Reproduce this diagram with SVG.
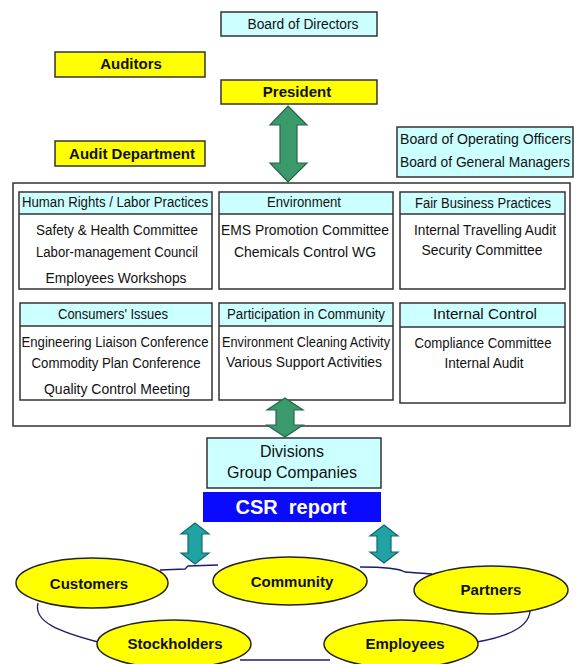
<svg xmlns="http://www.w3.org/2000/svg" width="581" height="664" viewBox="0 0 581 664">
<style>
text{font-family:"Liberation Sans",Arial,sans-serif;fill:#111;}
.box{stroke:#333;stroke-width:1.5;}
.cy{fill:#ccffff;}
.yl{fill:#ffff00;}
.wh{fill:#ffffff;}
.t13{font-size:14px;text-anchor:middle;}
.t14{font-size:14px;}
.yb{font-size:15px;font-weight:bold;text-anchor:middle;}
.ell{fill:#ffff00;stroke:#222;stroke-width:1.5;}
.ring{fill:none;stroke:#1c1c6e;stroke-width:1.3;}
.garrow{fill:#3a9a6c;stroke:#25664a;stroke-width:1.2;}
.tarrow{fill:#22a3a3;stroke:#0f6a6a;stroke-width:1.2;}
</style>
<rect width="581" height="664" fill="#ffffff"/>

<g id="board-of-directors">
<rect class="box cy" x="221" y="12" width="156" height="24"/>
<text class="t14" x="303" y="29" text-anchor="middle" textLength="111" lengthAdjust="spacingAndGlyphs">Board of Directors</text>
</g>
<g id="auditors">
<rect class="box yl" x="55" y="52" width="150" height="25"/>
<text class="yb" x="131" y="69">Auditors</text>
</g>
<g id="president">
<rect class="box yl" x="221" y="80" width="156" height="24"/>
<text class="yb" x="297" y="97">President</text>
</g>
<g id="audit-department">
<rect class="box yl" x="55" y="141" width="150" height="25"/>
<text class="yb" x="132" y="159">Audit Department</text>
</g>
<g id="board-of-operating-officers">
<rect class="box cy" x="397" y="127" width="176" height="50"/>
<text class="t14" x="400" y="144" textLength="171" lengthAdjust="spacingAndGlyphs">Board of Operating Officers</text>
<text class="t14" x="400" y="167" textLength="170" lengthAdjust="spacingAndGlyphs">Board of General Managers</text>
</g>

<g id="csr-committees">
<rect x="13" y="183" width="557" height="243" fill="#ffffff" stroke="#333" stroke-width="1.5"/>
</g>

<g id="human-rights">
<rect class="box wh" x="19" y="192" width="193" height="97"/>
<rect class="cy" x="20" y="193" width="191" height="21"/>
<line x1="19" y1="214" x2="212" y2="214" stroke="#333" stroke-width="1.5"/>
<text class="t13" x="115" y="207" textLength="186" lengthAdjust="spacingAndGlyphs">Human Rights / Labor Practices</text>
<text class="t13" x="117" y="235" textLength="162" lengthAdjust="spacingAndGlyphs">Safety &amp; Health Committee</text>
<text class="t13" x="117" y="257" textLength="162" lengthAdjust="spacingAndGlyphs">Labor-management Council</text>
<text class="t13" x="116" y="283" textLength="141" lengthAdjust="spacingAndGlyphs">Employees Workshops</text>
</g>
<g id="environment">
<rect class="box wh" x="219" y="192" width="174" height="97"/>
<rect class="cy" x="220" y="193" width="172" height="21"/>
<line x1="219" y1="214" x2="393" y2="214" stroke="#333" stroke-width="1.5"/>
<text class="t13" x="304" y="207" textLength="74" lengthAdjust="spacingAndGlyphs">Environment</text>
<text class="t13" x="305" y="235" textLength="168" lengthAdjust="spacingAndGlyphs">EMS Promotion Committee</text>
<text class="t13" x="305" y="257" textLength="142" lengthAdjust="spacingAndGlyphs">Chemicals Control WG</text>
</g>
<g id="fair-business">
<rect class="box wh" x="400" y="192" width="165" height="97"/>
<rect class="cy" x="401" y="193" width="163" height="21"/>
<line x1="400" y1="214" x2="565" y2="214" stroke="#333" stroke-width="1.5"/>
<text class="t13" x="483" y="208" textLength="136" lengthAdjust="spacingAndGlyphs">Fair Business Practices</text>
<text class="t13" x="485" y="235" textLength="142" lengthAdjust="spacingAndGlyphs">Internal Travelling Audit</text>
<text class="t13" x="482" y="255" textLength="121" lengthAdjust="spacingAndGlyphs">Security Committee</text>
</g>
<g id="consumers">
<rect class="box wh" x="20" y="303" width="192" height="97"/>
<rect class="cy" x="21" y="304" width="190" height="22"/>
<line x1="20" y1="326" x2="212" y2="326" stroke="#333" stroke-width="1.5"/>
<text class="t13" x="113" y="319" textLength="110" lengthAdjust="spacingAndGlyphs">Consumers' Issues</text>
<text class="t13" x="115" y="347" textLength="187" lengthAdjust="spacingAndGlyphs">Engineering Liaison Conference</text>
<text class="t13" x="116" y="368" textLength="169" lengthAdjust="spacingAndGlyphs">Commodity Plan Conference</text>
<text class="t13" x="117" y="394" textLength="146" lengthAdjust="spacingAndGlyphs">Quality Control Meeting</text>
</g>
<g id="participation">
<rect class="box wh" x="219" y="303" width="174" height="97"/>
<rect class="cy" x="220" y="304" width="172" height="22"/>
<line x1="219" y1="326" x2="393" y2="326" stroke="#333" stroke-width="1.5"/>
<text class="t13" x="306" y="319" textLength="158" lengthAdjust="spacingAndGlyphs">Participation in Community</text>
<text class="t13" x="306" y="347" textLength="168" lengthAdjust="spacingAndGlyphs">Environment Cleaning Activity</text>
<text class="t13" x="304" y="367" textLength="156" lengthAdjust="spacingAndGlyphs">Various Support Activities</text>
</g>
<g id="internal-control">
<rect class="box wh" x="400" y="303" width="165" height="100"/>
<rect class="cy" x="401" y="304" width="163" height="23"/>
<line x1="400" y1="327" x2="565" y2="327" stroke="#333" stroke-width="1.5"/>
<text class="t13" x="485" y="319" textLength="104" lengthAdjust="spacingAndGlyphs">Internal Control</text>
<text class="t13" x="483" y="348" textLength="137" lengthAdjust="spacingAndGlyphs">Compliance Committee</text>
<text class="t13" x="484" y="368" textLength="79" lengthAdjust="spacingAndGlyphs">Internal Audit</text>
</g>

<g id="divisions">
<rect class="box cy" x="207" y="438" width="174" height="50"/>
<text x="292" y="457" font-size="16" text-anchor="middle">Divisions</text>
<text x="292" y="478" font-size="16" text-anchor="middle">Group Companies</text>
</g>
<g id="csr-report">
<rect x="203" y="492" width="178" height="30" fill="#0a0aff"/>
<text x="291" y="514" font-size="20" font-weight="bold" text-anchor="middle" style="fill:#ffffff" xml:space="preserve">CSR  report</text>
</g>

<g id="connectors">
<polygon class="garrow" points="288,106 307,125 297,125 297,163 307,163 288,182 270,163 280,163 280,125 270,125"/>
<polygon class="garrow" points="285,398 303,410 294,410 294,425 303,425 285,437 267,425 276,425 276,410 267,410"/>
<polygon class="tarrow" points="195,523 209,534 202,534 202,553 209,553 195,564 181,553 188,553 188,534 181,534"/>
<polygon class="tarrow" points="384,525 398,536 391,536 391,552 398,552 384,563 370,552 377,552 377,536 370,536"/>
<path class="ring" d="M160,570 L185,569 L188,566 L218,565"/>
<path class="ring" d="M360,567 C385,567 400,569 405,572 L432,574"/>
<path class="ring" d="M530,611 C529,628 505,637 477,642"/>
<path class="ring" d="M330,660 L240,660"/>
<path class="ring" d="M38,603 C33,622 60,632 98,642"/>
</g>

<g id="customers">
<ellipse class="ell" cx="92" cy="583" rx="76" ry="25"/>
<text class="yb" x="89" y="589">Customers</text>
</g>
<g id="community">
<ellipse class="ell" cx="290" cy="581" rx="77" ry="24"/>
<text class="yb" x="292" y="587">Community</text>
</g>
<g id="partners">
<ellipse class="ell" cx="491" cy="590" rx="77" ry="24"/>
<text class="yb" x="491" y="595">Partners</text>
</g>
<g id="stockholders">
<ellipse class="ell" cx="174" cy="644" rx="77" ry="24"/>
<text class="yb" x="175" y="649">Stockholders</text>
</g>
<g id="employees">
<ellipse class="ell" cx="401" cy="644" rx="77" ry="24"/>
<text class="yb" x="405" y="649">Employees</text>
</g>
</svg>
